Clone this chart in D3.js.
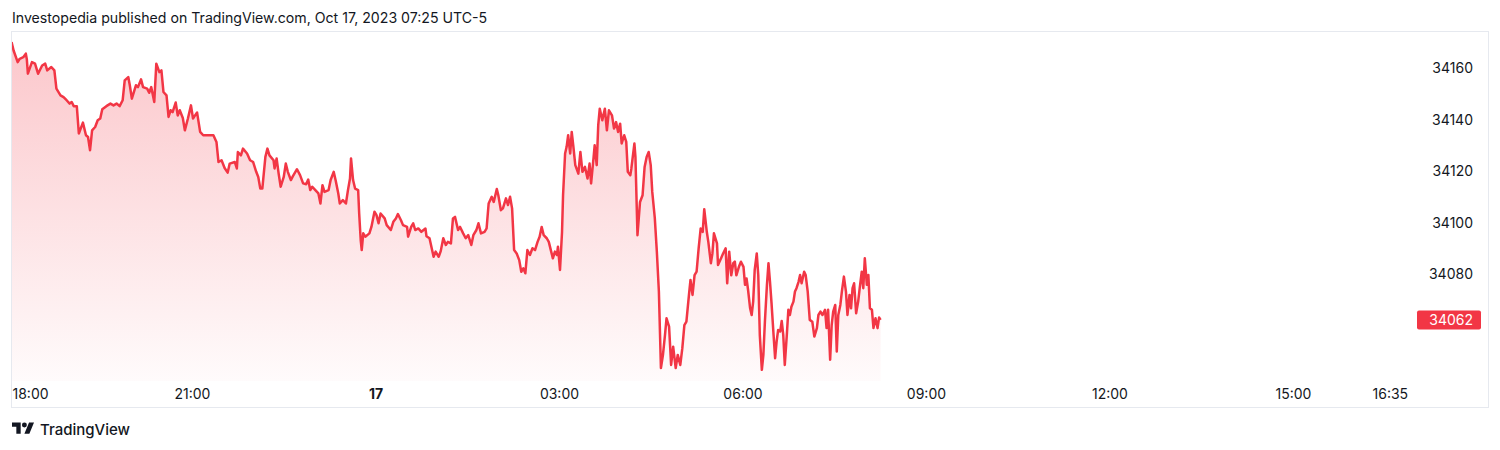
<!DOCTYPE html>
<html><head><meta charset="utf-8">
<script src="https://cdn.jsdelivr.net/npm/d3@7/dist/d3.min.js"></script>
<style>
html,body{margin:0;padding:0;background:#fff;}
svg{display:block;font-family:Inter,"Noto Sans",sans-serif;}
</style></head>
<body>
<svg id="chart" width="1500" height="450"></svg>
<script>
// minutes since Oct 16 2023 18:00
const minutes = [3,5,9,11,14.5,17,18,19,23,26,29,33,36,38,42,45,47,51,54,57,60,62,64,67,69,73,76,78,80,82,85,87.5,90,92,96,100,103,106,109,112,114,117.5,119,121,125,127,130,132,136,138,140,143,145,148,150,152,155,157,159,161,164,166,168,171,173,176,179,181,183,185,188,191,196,201,204,206,209,212,215,217,222,224,225,228,230,234,237,240,243,245,247,249,252,254,256,260,261,263,265,267,270,272,274,277,279,283,286,289,292,294,296,298,301,304,306,308,310,314,316,319,321,323.5,325,328,331,333,335,336,338,340,343,344,345.5,346.5,348,350,354,356,359,361,363,365,369,371,375,377.5,380,382,385,387,391,392,395,397,399,402,405,409,410,413,417,419,422,424,426.5,429,431,434,436,438,441,443,446,448.5,451,454,456,459,461,463.5,467,469,471,474,476,479,480.5,483,485,488,490,492,494,496,498.5,501,503,505,507,509,511.5,514,516.5,519,521,523,525,528,530,532,534,536,538,539,541,543,544,546,547.5,549,551,552.5,554,556,559,561,563,565.5,568,570,571.5,574,575,577,578.5,580,582.5,585,587,589,592,594,596,598,600,601.5,604,606,607.5,610,611,614,615,617,619.5,622,624,626,628,630,631.5,634,636,638,640,642,644,645.5,648,650,652,654.5,656.5,659,661,663,665,667.5,669,671,673,675,677,679,681,682.5,685,686.5,689,690.5,692,695,696,699,701,703.5,705,707,709,711,712.5,714,716.5,718.5,721,722.5,724,725.5,727.5,729,730.5,732,734,735.5,737,739,740.5,742,744,745.5,747,748.5,750.5,752,753.5,755,757,758.5,760,761.5,763.5,765,766.5,768,770,771.5,773,775,776.5,778,780.5,782,784,786,788.5,790.5,793,794.5,796.5,798.5,801,802.5,804,806,807.5,809,811,812.5,814,816,817.5,819.5,821.5,823,825,826.5,828,829.5,831.5,833.5,835,837,838.5,840,842,843.5,845,847,848.5,850.5,852.5,854,855.5];
const prices = [34170.2,34166.9,34162.4,34163.7,34164.3,34165.7,34163.4,34157.9,34162.4,34161.8,34157.9,34161.1,34161.8,34159.2,34160.5,34159.2,34152.1,34149.5,34148.8,34147.6,34146.3,34146.9,34145.3,34145.3,34134.7,34138.9,34134.0,34133.3,34128.2,34135.9,34137.2,34139.8,34140.5,34144.1,34145.3,34146.3,34145.6,34146.3,34145.3,34147.6,34155.3,34156.6,34153.4,34148.2,34153.4,34152.7,34155.7,34152.7,34152.1,34150.5,34152.7,34146.9,34161.8,34158.5,34159.2,34150.8,34149.5,34141.1,34143.7,34143.0,34146.7,34141.7,34143.7,34140.7,34135.9,34140.5,34145.6,34140.5,34141.7,34142.8,34135.3,34134.0,34134.0,34134.0,34131.4,34123.6,34124.3,34121.3,34119.5,34123.0,34123.6,34121.1,34127.5,34126.2,34128.8,34126.9,34124.3,34123.6,34119.8,34117.8,34113.3,34113.3,34125.6,34128.8,34126.2,34124.3,34121.1,34125.0,34119.1,34114.0,34117.8,34123.0,34119.8,34116.6,34118.1,34120.8,34118.5,34115.3,34115.0,34116.8,34112.7,34114.0,34112.7,34111.4,34107.5,34114.6,34112.0,34112.7,34116.6,34119.8,34116.3,34111.4,34107.5,34108.8,34107.5,34112.7,34117.2,34125.0,34116.6,34113.3,34112.7,34103.6,34093.3,34089.4,34095.9,34094.6,34095.9,34098.4,34104.3,34103.0,34099.8,34103.6,34101.7,34099.1,34097.2,34100.4,34101.7,34103.4,34101.0,34099.1,34098.4,34094.6,34098.4,34099.8,34097.2,34097.8,34096.5,34097.8,34094.8,34094.0,34086.8,34088.8,34086.8,34089.0,34094.0,34091.4,34092.6,34092.0,34101.7,34102.3,34097.2,34098.4,34095.9,34094.0,34095.2,34091.4,34095.2,34097.2,34099.8,34095.9,34096.5,34097.8,34107.5,34110.1,34108.1,34113.1,34110.7,34104.9,34105.6,34109.5,34106.9,34110.1,34105.6,34089.4,34088.1,34085.5,34081.0,34082.3,34080.4,34089.4,34087.5,34090.1,34089.4,34092.6,34094.6,34098.4,34095.2,34094.0,34092.6,34089.4,34086.2,34088.8,34087.5,34090.7,34081.7,34096.5,34110.7,34126.9,34129.5,34134.0,34126.9,34135.3,34130.1,34122.4,34119.1,34127.5,34119.8,34121.7,34117.2,34123.0,34115.3,34125.6,34130.1,34122.4,34137.9,34144.3,34139.8,34144.3,34135.9,34143.7,34141.7,34136.6,34139.1,34135.3,34138.5,34130.8,34134.0,34131.4,34119.8,34118.5,34121.1,34130.8,34125.6,34095.2,34108.1,34110.7,34121.7,34125.6,34127.5,34122.4,34112.0,34101.8,34088.8,34073.3,34043.6,34048.7,34056.5,34062.9,34059.7,34044.8,34051.9,34043.6,34048.7,34044.8,34051.3,34060.3,34061.6,34072.0,34077.8,34072.0,34079.7,34081.0,34090.1,34097.8,34096.5,34105.3,34096.5,34092.6,34084.3,34088.1,34095.9,34092.0,34083.6,34086.2,34088.1,34090.1,34076.5,34088.8,34079.6,34084.3,34084.9,34079.6,34082.9,34084.9,34082.9,34075.9,34078.4,34073.9,34066.8,34064.2,34069.4,34081.7,34088.1,34079.7,34056.5,34042.9,34048.7,34061.6,34075.9,34084.3,34077.1,34068.8,34056.5,34047.4,34053.9,34058.4,34057.8,34061.9,34056.5,34044.8,34056.5,34066.2,34064.2,34067.4,34069.4,34073.3,34074.6,34077.1,34079.7,34076.5,34081.0,34079.7,34073.3,34062.3,34061.6,34055.8,34059.1,34064.2,34065.5,34064.2,34066.2,34059.1,34066.2,34046.8,34060.3,34065.5,34068.1,34050.0,34064.2,34068.1,34073.3,34079.1,34073.3,34064.2,34072.0,34066.8,34074.6,34076.5,34064.9,34069.4,34074.6,34081.0,34074.6,34086.2,34075.9,34079.7,34066.8,34066.2,34059.1,34062.9,34059.1,34063.2,34062.3];
const yTicks = [34080, 34100, 34120, 34140, 34160];
const xTickMinutes = [0, 180, 360, 540, 720, 900, 1080, 1260, 1355];
const xTickLabels = ["18:00", "21:00", "17", "03:00", "06:00", "09:00", "12:00", "15:00", "16:35"];
const lastLabel = "34062";

const start = new Date(2023, 9, 16, 18, 0);
const toDate = m => new Date(start.getTime() + m * 60000);
const data = minutes.map((m, i) => ({t: toDate(m), v: prices[i]}));

const svg = d3.select("#chart");
const pane = {left: 11.5, top: 31.5, right: 1410, bottom: 381};
const frame = {left: 11.5, top: 31.5, right: 1488.5, bottom: 407.5};

const x = d3.scaleTime().domain([toDate(0), toDate(1355)]).range([8.5, 1389.8]);
const y = d3.scaleLinear().domain([34080, 34160]).range([274.3, 68.3]);

svg.append("rect").attr("width", 1500).attr("height", 450).attr("fill", "#fff");

const defs = svg.append("defs");
defs.append("clipPath").attr("id", "clip").append("rect")
  .attr("x", pane.left + 0.5).attr("y", pane.top).attr("width", pane.right - pane.left).attr("height", pane.bottom - pane.top);
const minY = y(d3.max(prices));
const grad = defs.append("linearGradient").attr("id", "fill").attr("gradientUnits", "userSpaceOnUse")
  .attr("x1", 0).attr("x2", 0).attr("y1", minY).attr("y2", pane.bottom);
grad.append("stop").attr("offset", 0).attr("stop-color", "#F23645").attr("stop-opacity", 0.28);
grad.append("stop").attr("offset", 1).attr("stop-color", "#F23645").attr("stop-opacity", 0.02);

// header
svg.append("text").attr("x", 12).attr("y", 22.5).attr("font-size", 14.15).attr("fill", "#131722")
  .text("Investopedia published on TradingView.com, Oct 17, 2023 07:25 UTC-5");

// frame
svg.append("rect").attr("x", frame.left).attr("y", frame.top)
  .attr("width", frame.right - frame.left).attr("height", frame.bottom - frame.top)
  .attr("fill", "none").attr("stroke", "#E6E9EF").attr("stroke-width", 1);

const g = svg.append("g").attr("clip-path", "url(#clip)");
g.append("path").datum(data)
  .attr("d", d3.area().x(d => x(d.t)).y0(pane.bottom).y1(d => y(d.v)))
  .attr("fill", "url(#fill)");
g.append("path").datum(data)
  .attr("d", d3.line().x(d => x(d.t)).y(d => y(d.v)))
  .attr("fill", "none").attr("stroke", "#F23645").attr("stroke-width", 2.5).attr("stroke-linejoin", "round");

// y axis (right)
const yAxis = d3.axisRight(y).tickValues(yTicks).tickSize(0).tickFormat(d3.format("d"));
const ya = svg.append("g").attr("transform", "translate(1473,0)").call(yAxis);
ya.select(".domain").remove();
ya.selectAll("text").attr("x", 0).attr("text-anchor", "end").attr("font-family", "Inter, sans-serif")
  .attr("font-size", 14).attr("fill", "#131722");

// last price tag
const lastY = y(prices[prices.length - 1]);
svg.append("rect").attr("x", 1417).attr("y", lastY - 9.5).attr("width", 64).attr("height", 19)
  .attr("rx", 2).attr("fill", "#F23645");
svg.append("text").attr("x", 1473).attr("y", lastY).attr("dy", "0.35em").attr("text-anchor", "end")
  .attr("font-size", 14).attr("fill", "#fff").text(lastLabel);

// x axis
const xAxis = d3.axisBottom(x).tickValues(xTickMinutes.map(toDate)).tickSize(0)
  .tickFormat((d, i) => xTickLabels[i]);
const xa = svg.append("g").attr("transform", "translate(0,389)").call(xAxis);
xa.select(".domain").remove();
xa.selectAll("text").attr("y", 0).attr("dy", "0.71em").attr("font-family", "Inter, sans-serif")
  .attr("font-size", 14).attr("fill", "#131722")
  .attr("font-weight", (d, i) => xTickLabels[i] === "17" ? 700 : 400)
  .attr("text-anchor", (d, i) => i === 0 ? "start" : "middle")
  .attr("x", (d, i) => i === 0 ? 12 - x(d) : 0);

// TradingView logo
const logo = svg.append("g").attr("transform", "translate(12,420) scale(0.62)").attr("fill", "#131722");
logo.append("path").attr("d", "M14 22H7V11H0V4h14v18zM28 22h-8l7.5-18h8L28 22z");
logo.append("circle").attr("cx", 20).attr("cy", 8).attr("r", 4);
svg.append("text").attr("x", 40).attr("y", 434.5).attr("font-size", 15).attr("font-weight", 500)
  .attr("fill", "#131722").text("TradingView");
</script>
</body></html>
